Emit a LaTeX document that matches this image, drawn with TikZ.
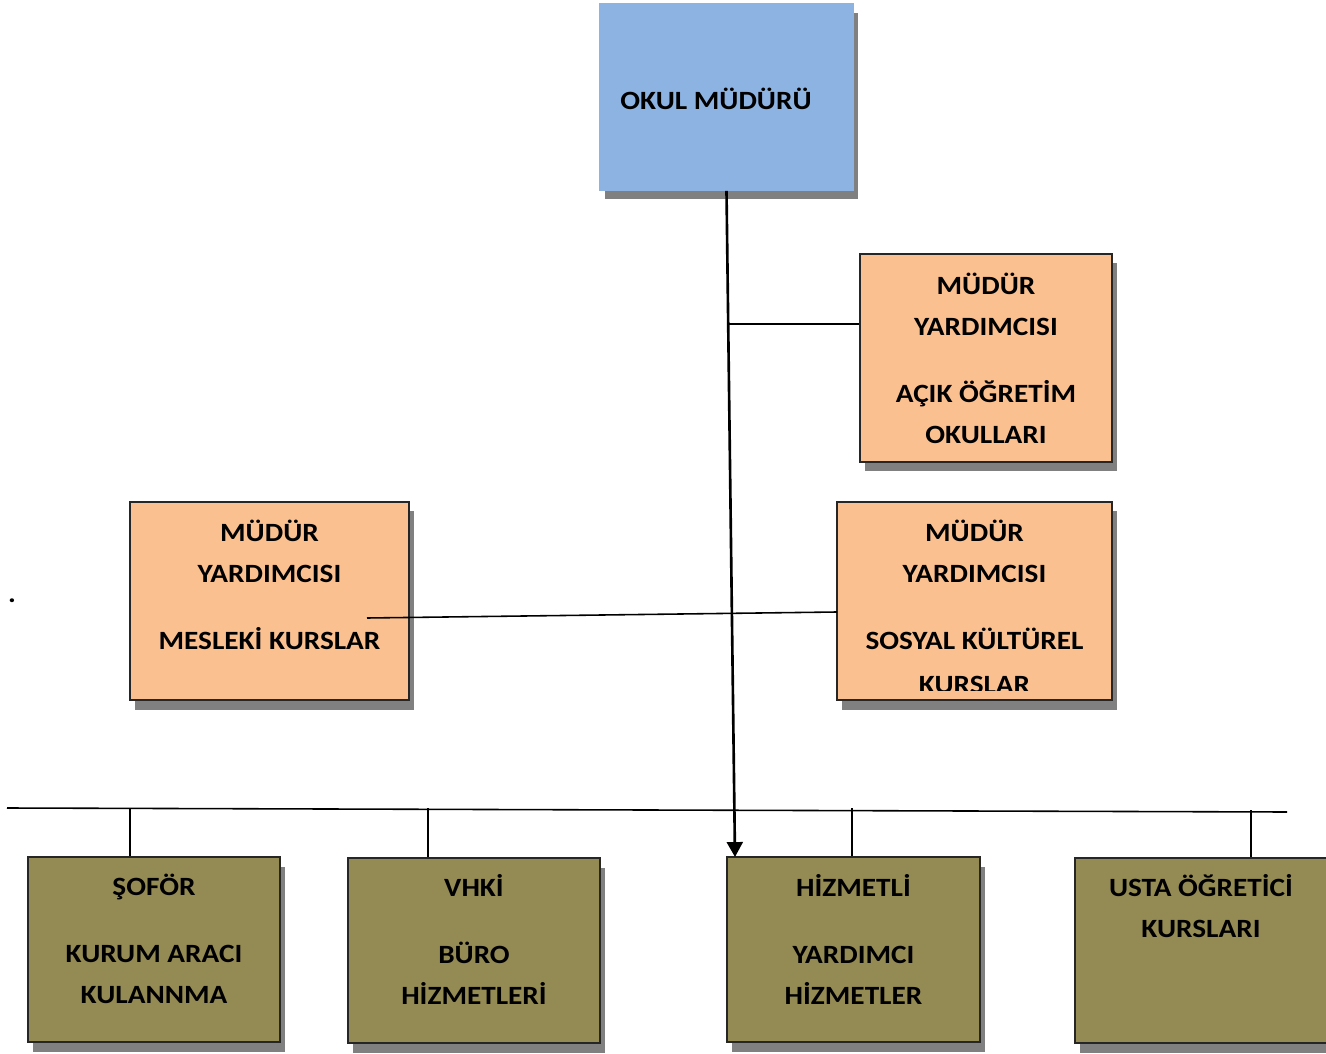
\documentclass[tikz,border=0pt]{standalone}
\usepackage{fontspec}
\setmainfont{Carlito}[FakeStretch=1.11]
\usetikzlibrary{shadows,arrows.meta}
\definecolor{bleu}{HTML}{8DB3E2}
\definecolor{orange}{HTML}{FAC090}
\definecolor{olive}{HTML}{948A54}

\begin{document}
\begin{tikzpicture}[x=0.02cm,y=-0.02cm]
% Styles
\tikzstyle{fleche}=[-{Triangle[width=9pt,length=8.5pt]},line width=1.5pt]
\tikzstyle{trait}=[line width=0.9pt]
\tikzstyle{boite}=[draw=black!85,line width=0.9pt,inner sep=0pt,
  drop shadow={shadow xshift=0.1cm,shadow yshift=-0.19cm,fill=black!50,opacity=1}]
\tikzstyle{chef}=[boite,fill=bleu,draw=bleu]
\tikzstyle{adjoint}=[boite,fill=orange]
\tikzstyle{service}=[boite,fill=olive]
\tikzstyle{etiquette}=[font=\bfseries\fontsize{15}{23.3}\selectfont,align=center,anchor=north,inner sep=0pt]
% Dimensions
\def\px{0.02cm}
\def\Ecart{14.7pt}
\useasboundingbox (0,0) rectangle (1326,1054);
% Boites
\node[chef,minimum width={253*\px},minimum height={186*\px}] (okul) at (726.5,97) {};
\node[adjoint,minimum width={252*\px},minimum height={208*\px}] (myaok) at (986,358) {};
\node[adjoint,minimum width={279*\px},minimum height={198*\px}] (mesleki) at (269.5,601) {};
\node[adjoint,minimum width={275*\px},minimum height={198*\px}] (sosyal) at (974.5,601) {};
\node[service,minimum width={252*\px},minimum height={185*\px}] (sofor) at (154,949.5) {};
\node[service,minimum width={252*\px},minimum height={185*\px}] (vhki) at (474,950.5) {};
\node[service,minimum width={253*\px},minimum height={185*\px}] (hizmetli) at (853.5,949.5) {};
\node[service,minimum width={253*\px},minimum height={185*\px}] (usta) at (1201.5,950.5) {};
% Textes
\node[etiquette,anchor=base] (t-okul) at (716,109.5) {OKUL MÜDÜRÜ};
\node[etiquette] (t-myaok) at (986,273) {MÜDÜR\\YARDIMCISI\\[\Ecart]AÇIK ÖĞRETİM\\OKULLARI};
\node[etiquette] (t-mesleki) at (269.5,520) {MÜDÜR\\YARDIMCISI\\[\Ecart]MESLEKİ KURSLAR};
\begin{scope}
\clip (837,502) rectangle (1112,690);
\node[etiquette] (t-sosyal) at (974.5,520) {MÜDÜR\\YARDIMCISI\\[\Ecart]SOSYAL KÜLTÜREL\\[2pt]KURSLAR};
\end{scope}
\node[etiquette] (t-sofor) at (154,874) {ŞOFÖR\\[\Ecart]KURUM ARACI\\KULANNMA};
\node[etiquette] (t-vhki) at (474,874) {VHKİ\\[\Ecart]BÜRO\\HİZMETLERİ};
\node[etiquette] (t-hizmetli) at (853.5,874) {HİZMETLİ\\[\Ecart]YARDIMCI\\HİZMETLER};
\node[etiquette] (t-usta) at (1201,874) {USTA ÖĞRETİCİ\\KURSLARI};
\node[etiquette,anchor=center] (point) at (12,601) {.};
% Points de jonction
\coordinate (jonction) at (727.5,324);
\coordinate (mesl) at (367,618);
\coordinate (sosy) at (837,612);
\coordinate (pointe) at (735,857);
\coordinate (busG) at (7,808);
\coordinate (busD) at (1287,812);
\coordinate (dA) at (130,808);
\coordinate (dB) at (428,808);
\coordinate (dC) at (852,808);
\coordinate (dD) at (1251,810);
% Liaisons
\draw[fleche] (okul.south) -- (pointe);
\draw[trait] (jonction) -- (jonction -| myaok.west);
\draw[trait] (mesl) -- (sosy);
\draw[trait] (busG) -- (busD);
\draw[trait] (dA) -- (dA |- sofor.north);
\draw[trait] (dB) -- (dB |- vhki.north);
\draw[trait] (dC) -- (dC |- hizmetli.north);
\draw[trait] (dD) -- (dD |- usta.north);
\end{tikzpicture}
\end{document}
